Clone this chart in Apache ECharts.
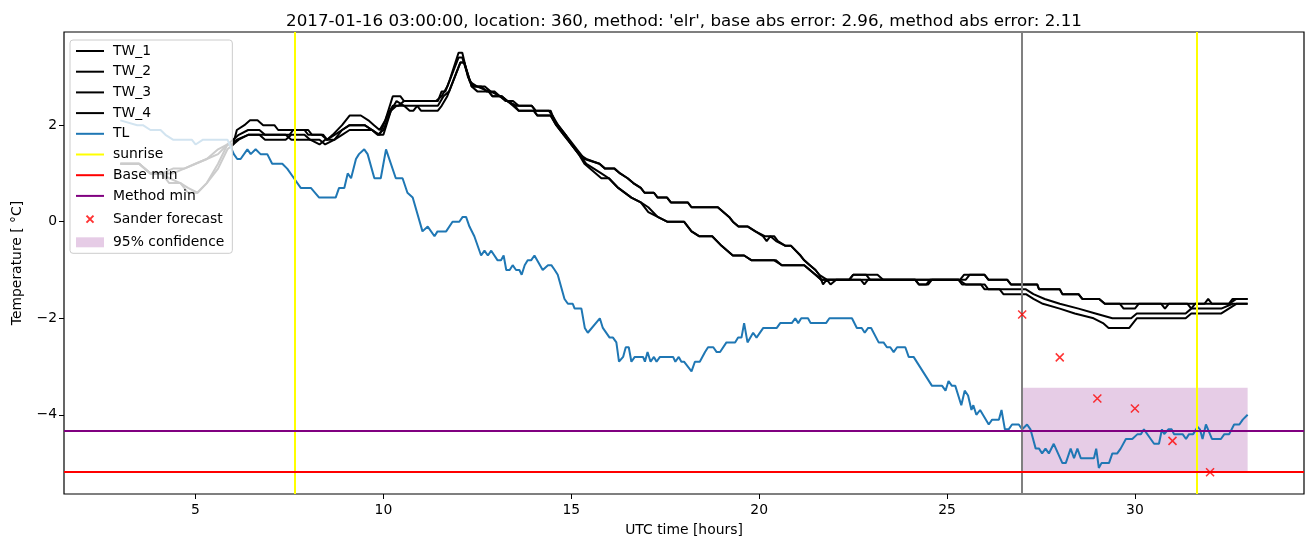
<!DOCTYPE html>
<html><head><meta charset="utf-8">
<script src="https://cdn.jsdelivr.net/npm/echarts@6/dist/echarts.min.js"></script>
<style>html,body{margin:0;padding:0;background:#fff}#c{width:1313px;height:547px}</style>
</head><body><div id="c"></div>
<script>
const titleText = "2017-01-16 03:00:00, location: 360, method: 'elr', base abs error: 2.96, method abs error: 2.11";
const xName = "UTC time [hours]";
const yName = "Temperature [ °C]";
const xTicks = [5, 10, 15, 20, 25, 30];
const yTicks = [-4, -2, 0, 2];

// [hour, temperature]
const tw1 = [[3.0,1.2],[3.5,1.2],[3.8,1.0],[4.1,1.0],[4.4,1.1],[4.7,1.1],[5.0,1.2],[5.3,1.3],[5.6,1.4],[5.85,1.6],[6.0,1.6],[6.1,1.9],[6.3,2.0],[6.45,2.1],[6.65,2.1],[6.8,2.0],[7.1,2.0],[7.2,1.9],[7.9,1.9],[8.0,1.8],[8.35,1.8],[8.5,1.7],[8.65,1.8],[8.9,2.0],[9.1,2.2],[9.4,2.2],[9.6,2.1],[9.75,2.0],[9.9,1.9],[10.05,2.1],[10.25,2.6],[10.45,2.6],[10.55,2.5],[11.45,2.5],[11.55,2.7],[11.65,2.7],[11.75,2.9],[12.0,3.5],[12.1,3.5],[12.25,3.0],[12.4,2.8],[12.6,2.8],[12.75,2.7],[12.95,2.7],[13.1,2.6],[13.25,2.5],[13.45,2.5],[13.6,2.4],[13.95,2.4],[14.05,2.3],[14.4,2.3],[14.5,2.2],[14.65,2.0],[14.85,1.8],[15.0,1.6],[15.2,1.4],[15.4,1.3],[15.75,1.2],[15.9,1.1],[16.15,1.1],[16.3,1.0],[16.5,0.9],[16.65,0.8],[16.85,0.7],[16.95,0.6],[17.2,0.6],[17.3,0.5],[17.55,0.5],[17.65,0.4],[18.1,0.4],[18.2,0.3],[18.9,0.3],[19.2,0.1],[19.3,0.0],[19.45,-0.1],[19.7,-0.1],[19.9,-0.2],[20.15,-0.3],[20.4,-0.3],[20.5,-0.4],[20.7,-0.5],[20.85,-0.5],[21.1,-0.7],[21.2,-0.8],[21.35,-0.9],[21.5,-1.0],[21.6,-1.1],[21.8,-1.2],[22.4,-1.2],[22.5,-1.1],[23.15,-1.1],[23.3,-1.2],[25.35,-1.2],[25.45,-1.1],[26.0,-1.1],[26.1,-1.2],[26.6,-1.2],[26.7,-1.3],[27.4,-1.3],[27.45,-1.4],[28.0,-1.4],[28.07,-1.5],[28.5,-1.5],[28.6,-1.6],[29.05,-1.6],[29.2,-1.7],[31.85,-1.7],[31.95,-1.6],[32.05,-1.7],[32.5,-1.7],[32.6,-1.6],[33.0,-1.6]];
const tw2 = [[3.0,1.2],[3.5,1.2],[3.8,1.0],[4.1,1.0],[4.4,1.0],[4.7,1.1],[5.0,1.2],[5.3,1.3],[5.6,1.5],[5.85,1.6],[6.0,1.7],[6.15,1.8],[6.4,1.9],[6.7,1.9],[6.85,1.8],[7.5,1.8],[7.6,1.9],[8.0,1.9],[8.1,1.8],[8.4,1.8],[8.5,1.7],[8.7,1.8],[8.9,1.9],[9.1,2.0],[9.5,2.0],[9.7,1.9],[9.9,1.8],[10.1,2.2],[10.25,2.4],[10.4,2.4],[10.55,2.5],[11.4,2.5],[11.55,2.6],[11.7,2.8],[12.0,3.4],[12.1,3.4],[12.3,2.9],[12.5,2.8],[12.7,2.8],[12.85,2.7],[13.1,2.6],[13.3,2.5],[13.55,2.4],[13.95,2.4],[14.05,2.3],[14.45,2.3],[14.55,2.1],[14.75,1.9],[14.95,1.7],[15.15,1.5],[15.35,1.3],[15.75,1.2],[15.9,1.1],[16.15,1.1],[16.3,1.0],[16.5,0.9],[16.65,0.8],[16.85,0.7],[16.95,0.6],[17.2,0.6],[17.3,0.5],[17.55,0.5],[17.65,0.4],[18.1,0.4],[18.2,0.3],[18.9,0.3],[19.2,0.1],[19.3,0.0],[19.45,-0.1],[19.7,-0.1],[19.9,-0.2],[20.1,-0.3],[20.2,-0.4],[20.3,-0.3],[20.45,-0.4],[20.7,-0.5],[20.85,-0.5],[21.1,-0.7],[21.2,-0.8],[21.35,-0.9],[21.5,-1.0],[21.6,-1.1],[21.7,-1.3],[21.8,-1.2],[21.9,-1.3],[22.05,-1.2],[22.7,-1.2],[22.8,-1.3],[22.9,-1.2],[24.15,-1.2],[24.25,-1.3],[24.5,-1.3],[24.6,-1.2],[25.5,-1.2],[25.6,-1.1],[26.0,-1.1],[26.1,-1.2],[26.6,-1.2],[26.7,-1.3],[27.4,-1.3],[27.45,-1.4],[28.0,-1.4],[28.07,-1.5],[28.5,-1.5],[28.6,-1.6],[29.05,-1.6],[29.2,-1.7],[29.6,-1.7],[29.7,-1.8],[30.0,-1.8],[30.1,-1.7],[30.7,-1.7],[30.8,-1.8],[30.9,-1.7],[31.4,-1.7],[31.5,-1.8],[31.6,-1.7],[32.5,-1.7],[32.7,-1.6],[33.0,-1.6]];
const tw3 = [[3.0,1.2],[3.5,1.2],[3.8,1.0],[4.1,1.0],[4.3,0.8],[4.6,0.8],[4.8,0.6],[5.05,0.6],[5.3,0.8],[5.6,1.2],[5.85,1.6],[6.0,1.6],[6.1,1.7],[6.4,1.8],[6.7,1.8],[6.85,1.7],[7.4,1.7],[7.55,1.8],[7.9,1.8],[8.05,1.7],[8.3,1.7],[8.45,1.6],[8.7,1.7],[8.9,1.8],[9.1,1.9],[9.7,1.9],[9.85,1.8],[10.0,1.9],[10.2,2.3],[10.35,2.5],[10.55,2.4],[10.7,2.3],[10.8,2.3],[10.9,2.4],[11.0,2.3],[11.45,2.3],[11.55,2.4],[11.7,2.6],[12.05,3.3],[12.15,3.3],[12.35,2.8],[12.5,2.7],[12.8,2.7],[12.9,2.6],[13.15,2.6],[13.3,2.5],[13.45,2.4],[13.6,2.3],[14.0,2.3],[14.1,2.2],[14.45,2.2],[14.6,2.0],[14.8,1.8],[15.0,1.6],[15.2,1.4],[15.35,1.2],[15.8,0.9],[16.0,0.9],[16.25,0.7],[16.6,0.5],[16.85,0.4],[17.05,0.2],[17.3,0.1],[17.55,0.0],[18.0,0.0],[18.2,-0.2],[18.4,-0.3],[18.75,-0.3],[19.0,-0.5],[19.3,-0.7],[19.6,-0.7],[19.8,-0.8],[20.4,-0.8],[20.6,-0.9],[21.2,-0.9],[21.35,-1.0],[21.5,-1.1],[21.65,-1.2],[22.4,-1.2],[22.5,-1.1],[22.85,-1.1],[22.95,-1.2],[25.3,-1.2],[25.4,-1.3],[25.9,-1.3],[26.0,-1.4],[26.4,-1.4],[26.5,-1.5],[27.1,-1.5],[27.3,-1.6],[27.55,-1.7],[28.0,-1.8],[28.4,-1.9],[28.9,-2.0],[29.15,-2.1],[29.3,-2.2],[29.85,-2.2],[30.05,-2.0],[31.35,-2.0],[31.5,-1.9],[32.3,-1.9],[32.5,-1.8],[32.7,-1.7],[33.0,-1.7]];
const tw4 = [[3.0,1.2],[3.5,1.2],[3.8,1.0],[4.1,1.0],[4.3,0.9],[4.6,0.8],[4.8,0.7],[5.05,0.6],[5.3,0.8],[5.6,1.1],[5.85,1.5],[6.0,1.6],[6.15,1.7],[6.4,1.8],[7.4,1.8],[7.55,1.7],[8.05,1.7],[8.3,1.6],[8.45,1.7],[8.7,1.7],[8.9,1.9],[9.1,2.0],[9.5,2.0],[9.7,1.9],[9.85,1.8],[10.0,1.8],[10.2,2.3],[10.35,2.4],[11.45,2.4],[11.6,2.6],[11.75,2.7],[12.05,3.3],[12.15,3.3],[12.35,2.8],[12.5,2.8],[12.8,2.7],[12.9,2.6],[13.15,2.6],[13.3,2.5],[13.5,2.4],[13.6,2.3],[14.0,2.3],[14.1,2.2],[14.45,2.2],[14.6,2.0],[14.8,1.8],[15.0,1.6],[15.2,1.4],[15.4,1.2],[15.8,1.0],[16.0,0.9],[16.25,0.7],[16.6,0.5],[16.85,0.4],[17.05,0.3],[17.3,0.1],[17.55,0.0],[18.0,0.0],[18.2,-0.2],[18.4,-0.3],[18.75,-0.3],[19.0,-0.5],[19.3,-0.7],[19.6,-0.7],[19.8,-0.8],[20.45,-0.8],[20.6,-0.9],[21.2,-0.9],[21.35,-1.0],[21.5,-1.1],[21.65,-1.2],[24.15,-1.2],[24.25,-1.3],[24.45,-1.3],[24.55,-1.2],[25.3,-1.2],[25.5,-1.3],[26.0,-1.3],[26.1,-1.4],[27.1,-1.4],[27.3,-1.5],[27.6,-1.6],[28.0,-1.7],[28.5,-1.8],[28.95,-1.9],[29.4,-2.0],[29.9,-2.0],[30.05,-1.9],[31.35,-1.9],[31.5,-1.8],[32.3,-1.8],[32.6,-1.7],[33.0,-1.7]];
const tl = [[3.0,2.1],[3.45,2.0],[3.6,2.0],[3.8,1.9],[4.07,1.9],[4.2,1.8],[4.4,1.7],[4.9,1.7],[5.0,1.6],[5.2,1.7],[5.85,1.7],[6.02,1.4],[6.11,1.3],[6.2,1.3],[6.38,1.5],[6.47,1.4],[6.6,1.5],[6.73,1.4],[6.91,1.4],[7.04,1.2],[7.31,1.2],[7.44,1.1],[7.62,0.9],[7.8,0.7],[8.07,0.7],[8.29,0.5],[8.73,0.5],[8.82,0.7],[8.96,0.7],[9.05,1.0],[9.14,0.9],[9.27,1.3],[9.35,1.4],[9.49,1.5],[9.58,1.4],[9.76,0.9],[9.93,0.9],[10.07,1.5],[10.33,0.9],[10.51,0.9],[10.64,0.6],[10.78,0.5],[11.04,-0.2],[11.18,-0.1],[11.36,-0.3],[11.44,-0.2],[11.67,-0.2],[11.84,0.0],[12.02,0.0],[12.11,0.1],[12.2,0.1],[12.29,-0.1],[12.42,-0.3],[12.6,-0.7],[12.69,-0.6],[12.78,-0.7],[12.87,-0.6],[13.04,-0.8],[13.13,-0.8],[13.2,-0.7],[13.27,-1.0],[13.36,-1.0],[13.44,-0.9],[13.53,-1.0],[13.62,-1.0],[13.68,-1.1],[13.76,-0.9],[13.84,-0.8],[13.93,-0.8],[14.02,-0.7],[14.24,-1.0],[14.38,-0.9],[14.47,-0.9],[14.56,-1.0],[14.64,-1.1],[14.82,-1.6],[14.91,-1.7],[15.04,-1.7],[15.09,-1.8],[15.27,-1.8],[15.36,-2.2],[15.44,-2.3],[15.76,-2.0],[15.84,-2.2],[16.02,-2.4],[16.11,-2.4],[16.2,-2.5],[16.27,-2.9],[16.38,-2.8],[16.45,-2.6],[16.53,-2.6],[16.6,-2.9],[16.69,-2.8],[16.91,-2.8],[16.96,-2.9],[17.03,-2.7],[17.11,-2.9],[17.2,-2.8],[17.27,-2.9],[17.36,-2.8],[17.71,-2.8],[17.77,-2.9],[17.86,-2.8],[17.93,-2.9],[18.0,-2.9],[18.2,-3.1],[18.29,-2.9],[18.42,-2.9],[18.56,-2.7],[18.64,-2.6],[18.78,-2.6],[18.87,-2.7],[18.96,-2.7],[19.13,-2.5],[19.36,-2.5],[19.44,-2.4],[19.53,-2.4],[19.6,-2.1],[19.69,-2.5],[19.84,-2.3],[19.93,-2.4],[20.11,-2.2],[20.47,-2.2],[20.56,-2.1],[20.87,-2.1],[20.96,-2.0],[21.04,-2.1],[21.12,-2.0],[21.3,-2.0],[21.37,-2.1],[21.78,-2.1],[21.87,-2.0],[22.47,-2.0],[22.6,-2.2],[22.73,-2.2],[22.81,-2.3],[22.9,-2.2],[22.98,-2.2],[23.18,-2.5],[23.31,-2.5],[23.4,-2.6],[23.49,-2.6],[23.58,-2.7],[23.67,-2.6],[23.89,-2.6],[23.98,-2.8],[24.11,-2.8],[24.6,-3.4],[24.87,-3.4],[24.96,-3.5],[25.04,-3.3],[25.13,-3.4],[25.22,-3.4],[25.38,-3.8],[25.47,-3.5],[25.56,-3.6],[25.65,-3.9],[25.7,-3.8],[25.78,-4.0],[25.88,-3.9],[26.11,-4.2],[26.2,-4.1],[26.38,-4.1],[26.45,-3.9],[26.54,-4.3],[26.64,-4.3],[26.73,-4.2],[26.91,-4.2],[27.0,-4.3],[27.13,-4.2],[27.22,-4.3],[27.36,-4.7],[27.45,-4.7],[27.53,-4.8],[27.62,-4.7],[27.71,-4.8],[27.84,-4.6],[28.07,-5.0],[28.16,-5.0],[28.29,-4.7],[28.38,-4.9],[28.47,-4.7],[28.56,-4.9],[28.91,-4.9],[28.97,-4.7],[29.04,-5.1],[29.11,-5.0],[29.31,-5.0],[29.4,-4.8],[29.53,-4.8],[29.62,-4.7],[29.76,-4.5],[29.93,-4.5],[30.07,-4.4],[30.16,-4.4],[30.24,-4.3],[30.42,-4.5],[30.51,-4.6],[30.64,-4.6],[30.72,-4.3],[30.78,-4.4],[30.89,-4.3],[30.98,-4.3],[31.04,-4.4],[31.27,-4.4],[31.36,-4.5],[31.44,-4.4],[31.55,-4.4],[31.67,-4.25],[31.73,-4.3],[31.8,-4.5],[31.89,-4.2],[32.05,-4.5],[32.29,-4.5],[32.38,-4.4],[32.51,-4.4],[32.64,-4.2],[32.78,-4.2],[32.87,-4.1],[33.0,-4.0]];

const sunriseHours = [7.64, 31.64];
const forecastHour = 27;
const baseMin = -5.17;
const methodMin = -4.32;
const sanderHours = [27, 28, 29, 30, 31, 32];
const sanderTemps = [-1.92, -2.81, -3.66, -3.87, -4.54, -5.19];
const confHours = [27, 33];
const confRange = [-5.17, -3.44];

const FONT = 'DejaVu Sans';
const chart = echarts.init(document.getElementById('c'), null, {renderer: 'canvas'});
const twSeries = [['TW_1', tw1], ['TW_2', tw2], ['TW_3', tw3], ['TW_4', tw4]].map(([n, d]) => ({
  name: n, type: 'line', data: d, symbol: 'none', z: 3,
  lineStyle: {color: '#000', width: 2}, itemStyle: {color: '#000'}
}));
const minus = v => String(v).replace('-', '\u2212');
const lineLegend = n => ({name: n, itemStyle: {opacity: 0}});

chart.setOption({
  animation: false,
  backgroundColor: '#fff',
  title: {text: titleText, left: 679, top: 8, textAlign: 'center',
    textStyle: {fontFamily: FONT, fontSize: 16.7, fontWeight: 'normal', color: '#000'}},
  grid: {left: 64, right: 9, top: 32, bottom: 53, show: true, borderColor: '#000', borderWidth: 1.2, backgroundColor: 'transparent'},
  legend: {
    orient: 'vertical', left: 70, top: 40, z: 20,
    padding: [4, 8, 4, 5],
    itemWidth: 28, itemHeight: 14, itemGap: 6.7,
    backgroundColor: 'rgba(255,255,255,0.8)', borderColor: '#cccccc', borderWidth: 1, borderRadius: 3,
    textStyle: {fontFamily: FONT, fontSize: 13.9, color: '#000', padding: [0, 0, 0, 4]},
    data: [lineLegend('TW_1'), lineLegend('TW_2'), lineLegend('TW_3'), lineLegend('TW_4'), lineLegend('TL'),
      lineLegend('sunrise'), lineLegend('Base min'), lineLegend('Method min'),
      {name: 'Sander forecast', icon: 'path://M-5,-5 L-5,-5 M0,0 L10,10 M10,0 L0,10 M15,15 L15,15'},
      {name: '95% confidence', icon: 'path://M0,2 L28,2 L28,12 L0,12 Z'}]
  },
  xAxis: {
    type: 'value', min: 1.5, max: 34.5,
    name: xName, nameLocation: 'middle', nameGap: 29,
    nameTextStyle: {fontFamily: FONT, fontSize: 13.9, color: '#000'},
    axisLine: {show: false, onZero: false},
    axisTick: {show: true, length: 5, lineStyle: {color: '#000', width: 1}, customValues: xTicks},
    axisLabel: {fontFamily: FONT, fontSize: 13.9, color: '#000', margin: 9, customValues: xTicks},
    splitLine: {show: false}
  },
  yAxis: {
    type: 'value', min: -5.64, max: 3.93,
    name: yName, nameLocation: 'middle', nameGap: 40, nameRotate: 90,
    nameTextStyle: {fontFamily: FONT, fontSize: 13.9, color: '#000'},
    axisLine: {show: false, onZero: false},
    axisTick: {show: true, length: 5, lineStyle: {color: '#000', width: 1}, customValues: yTicks},
    axisLabel: {fontFamily: FONT, fontSize: 13.9, color: '#000', margin: 7, customValues: yTicks, formatter: minus},
    splitLine: {show: false}
  },
  series: [
    {
      name: '95% confidence', type: 'custom', z: 1,
      itemStyle: {color: 'rgba(128,0,128,0.2)'},
      data: [[confHours[0], confHours[1], confRange[0], confRange[1]]],
      encode: {x: [0, 1], y: [2, 3]},
      renderItem: (params, api) => {
        const p0 = api.coord([api.value(0), api.value(3)]);
        const p1 = api.coord([api.value(1), api.value(2)]);
        return {type: 'rect', shape: {x: p0[0], y: p0[1], width: p1[0] - p0[0], height: p1[1] - p0[1]},
          style: {fill: 'rgba(128,0,128,0.2)'}};
      }
    },
    ...twSeries,
    {name: 'TL', type: 'line', data: tl, symbol: 'none', z: 4,
      lineStyle: {color: '#1f77b4', width: 2}, itemStyle: {color: '#1f77b4'}},
    {name: 'sunrise', type: 'line', data: [], symbol: 'none', z: 2,
      lineStyle: {color: '#ffff00', width: 2}, itemStyle: {color: '#ffff00'},
      markLine: {silent: true, symbol: 'none', label: {show: false}, animation: false,
        lineStyle: {color: '#ffff00', width: 2, type: 'solid'},
        data: sunriseHours.map(h => ({xAxis: h}))}},
    {name: 'forecast time', type: 'line', data: [], symbol: 'none', z: 5,
      markLine: {silent: true, symbol: 'none', label: {show: false}, animation: false,
        lineStyle: {color: '#808080', width: 2, type: 'solid'},
        data: [{xAxis: forecastHour}]}},
    {name: 'Base min', type: 'line', data: [], symbol: 'none', z: 5,
      lineStyle: {color: '#ff0000', width: 2}, itemStyle: {color: '#ff0000'},
      markLine: {silent: true, symbol: 'none', label: {show: false}, animation: false,
        lineStyle: {color: '#ff0000', width: 2, type: 'solid'},
        data: [{yAxis: baseMin}]}},
    {name: 'Method min', type: 'line', data: [], symbol: 'none', z: 5,
      lineStyle: {color: '#800080', width: 2}, itemStyle: {color: '#800080'},
      markLine: {silent: true, symbol: 'none', label: {show: false}, animation: false,
        lineStyle: {color: '#800080', width: 2, type: 'solid'},
        data: [{yAxis: methodMin}]}},
    {name: 'Sander forecast', type: 'scatter', z: 6,
      data: sanderHours.map((h, i) => [h, sanderTemps[i]]),
      symbol: 'path://M0,0 L10,10 M10,0 L0,10', symbolSize: 8,
      itemStyle: {color: 'none', borderColor: '#ff0000', borderWidth: 1.5}}
  ]
});
</script></body></html>
